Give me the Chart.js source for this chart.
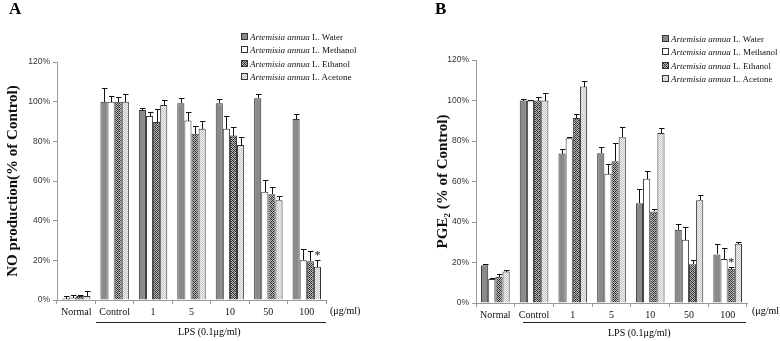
<!DOCTYPE html>
<html>
<head>
<meta charset="utf-8">
<script src="https://cdn.jsdelivr.net/npm/chart.js@4/dist/chart.umd.min.js"></script>
<style>
body { margin:0; background:#fff; width:780px; height:341px; overflow:hidden; position:relative; font-family:"Liberation Serif","Times New Roman",serif; }
.pane { position:absolute; top:0; width:390px; height:341px; }
.pane canvas { position:absolute; left:0; top:0; }
.lbl { position:absolute; font-weight:bold; font-size:17px; }
.unit { position:absolute; font-size:10px; }
.lps { position:absolute; font-size:10px; }
.lpsline { position:absolute; height:0; border-top:1px solid #222; }
.legend { position:absolute; font-size:9px; line-height:13.4px; color:#111; white-space:nowrap; }
.legend span.box { display:inline-block; width:5px; height:5px; border:1px solid #333; margin-right:2px; vertical-align:0px; }
</style>
</head>
<body>
<div class="pane" id="paneA" style="left:0">
  <canvas id="chartA" width="390" height="341"></canvas>
  <div class="lbl" style="left:9px;top:-1px">A</div>
  <div class="legend" id="legA" style="left:241px;top:31px"></div>
  <div class="unit" style="left:330px;top:305px">(μg/ml)</div>
  <div class="lpsline" style="left:96px;top:322px;width:230px"></div>
  <div class="lps" style="left:178px;top:326px">LPS (0.1μg/ml)</div>
</div>
<div class="pane" id="paneB" style="left:390px">
  <canvas id="chartB" width="390" height="341"></canvas>
  <div class="lbl" style="left:45px;top:-1px">B</div>
  <div class="legend" id="legB" style="left:272px;top:33px"></div>
  <div class="unit" style="left:362px;top:305px">(μg/ml)</div>
  <div class="lpsline" style="left:133px;top:322px;width:223px"></div>
  <div class="lps" style="left:218px;top:327px">LPS (0.1μg/ml)</div>
</div>
<script>
// categories and series
var categories = ["Normal", "Control", "1", "5", "10", "50", "100"];
var seriesNames = ["Water", "Methanol", "Ethanol", "Acetone"];

// panel A: NO production
var noWater    = [0.7, 100, 95.8, 99.2, 99.2, 101.7, 91.3];
var noMethanol = [1.2, 100, 92.8, 90.5, 86.3, 54.6, 20.1];
var noEthanol  = [2.0, 100, 89.8, 83.8, 82.9, 53.3, 19.6];
var noAcetone  = [2.0, 100, 98.3, 86.3, 78.2, 50.3, 16.8];
var noWaterSd    = [1.3, 6.9, 0.8, 2.6, 2.1, 2.2, 2.3];
var noMethanolSd = [1.1, 2.8, 2.0, 4.5, 6.3, 5.9, 5.4];
var noEthanolSd  = [0.7, 2.2, 6.5, 4.0, 4.2, 3.7, 5.2];
var noAcetoneSd  = [2.7, 4.0, 2.5, 4.0, 3.8, 2.1, 3.3];
var noStars = [[6, 3]]; // [category, series]

// panel B: PGE2
var pgWater    = [18.6, 100, 73.8, 74.0, 49.3, 36.2, 24.0];
var pgMethanol = [11.8, 100, 81.3, 63.8, 61.3, 31.2, 21.7];
var pgEthanol  = [13.0, 100, 91.4, 70.0, 45.2, 19.1, 16.9];
var pgAcetone  = [15.5, 100, 106.9, 81.9, 84.0, 50.7, 29.3];
var pgWaterSd    = [0.5, 0.5, 2.4, 2.8, 7.1, 2.9, 5.1];
var pgMethanolSd = [0.7, 0.3, 0.6, 4.6, 3.7, 6.3, 5.6];
var pgEthanolSd  = [1.1, 1.8, 2.0, 8.9, 1.2, 2.3, 0.9];
var pgAcetoneSd  = [0.6, 3.9, 2.6, 4.8, 2.3, 2.8, 0.8];
var pgStars = [[6, 2]];

var yTicks = [0, 20, 40, 60, 80, 100, 120];

// fill patterns
function makeTile(size, fn) {
  var c = document.createElement('canvas');
  c.width = size; c.height = size;
  var g = c.getContext('2d');
  for (var x = 0; x < size; x++) for (var y = 0; y < size; y++) {
    g.fillStyle = fn(x, y);
    g.fillRect(x, y, 1, 1);
  }
  return c;
}
var solidTile = makeTile(2, () => '#8a8a8a');
var whiteTile = makeTile(2, () => '#ffffff');
var hatchTile = makeTile(4, (x, y) => ((x + y) % 4 == 0 || ((x - y + 8) % 4 == 0)) ? '#2a2a2a' : ((x + y) % 2 == 0 ? '#6a6a6a' : '#b8b8b8'));
var dotTile = makeTile(2, (x, y) => ((x + y) % 2 == 0) ? '#c4c4c4' : '#f4f4f4');
var tiles = [solidTile, whiteTile, hatchTile, dotTile];

function patternFor(i) {
  var ctx = document.createElement('canvas').getContext('2d');
  return ctx.createPattern(tiles[i], 'repeat');
}

function fillLegend(id) {
  var html = seriesNames.map((n, i) => {
    return '<div><span class="box" style="background-image:url(' + tiles[i].toDataURL() + ')"></span>' +
      '<i>Artemisia annua</i> L. ' + n + '</div>';
  }).join('');
  document.getElementById(id).innerHTML = html;
}
fillLegend('legA');
fillLegend('legB');

function errPlugin(sds, stars) {
  return {
    id: 'errbars',
    afterDatasetsDraw(chart) {
      var ctx = chart.ctx, y = chart.scales.y;
      ctx.save();
      ctx.strokeStyle = '#111';
      ctx.lineWidth = 1;
      chart.data.datasets.forEach((ds, di) => {
        var meta = chart.getDatasetMeta(di);
        meta.data.forEach((el, i) => {
          var top = y.getPixelForValue(ds.data[i] + sds[di][i]);
          var x = Math.round(el.x) + 0.5;
          var t = Math.round(top) + 0.5;
          ctx.beginPath();
          ctx.moveTo(x, Math.round(el.y));
          ctx.lineTo(x, t);
          ctx.moveTo(x - 2.5, t);
          ctx.lineTo(x + 3, t);
          ctx.stroke();
        });
      });
      ctx.fillStyle = '#111';
      ctx.font = '12px "Liberation Serif", serif';
      ctx.textAlign = 'center';
      stars.forEach(s => {
        var el = chart.getDatasetMeta(s[1]).data[s[0]];
        var ds = chart.data.datasets[s[1]];
        var top = y.getPixelForValue(ds.data[s[0]] + sds[s[1]][s[0]]);
        ctx.fillText('*', el.x, top - 1);
      });
      ctx.restore();
    }
  };
}

function makeChart(id, series, sds, stars, title, pad, yWidth, xHeight) {
  var datasets = series.map((d, i) => ({
    label: seriesNames[i],
    data: d,
    backgroundColor: patternFor(i),
    borderColor: '#333',
    borderWidth: 1,
    categoryPercentage: 0.74,
    barPercentage: 1
  }));
  return new Chart(document.getElementById(id), {
    type: 'bar',
    data: { labels: categories, datasets: datasets },
    plugins: [errPlugin(sds, stars)],
    options: {
      responsive: false,
      animation: false,
      devicePixelRatio: 1,
      layout: { padding: pad },
      plugins: { legend: { display: false }, tooltip: { enabled: false } },
      scales: {
        x: {
          grid: { offset: true, drawOnChartArea: false, drawTicks: true, tickLength: 4, color: '#999' },
          border: { color: '#999' },
          ticks: { color: '#111', autoSkip: false, maxRotation: 0, padding: 2, font: { family: '"Liberation Serif", serif', size: 10 } },
          afterFit: s => { s.height = xHeight; }
        },
        y: {
          min: 0, max: 120,
          afterBuildTicks: s => { s.ticks = yTicks.map(v => ({ value: v })); },
          grid: { drawOnChartArea: false, drawTicks: true, tickLength: 4, color: '#999' },
          border: { color: '#999' },
          ticks: { color: '#333', padding: 3, callback: v => v + '%', font: { family: '"Liberation Sans", Arial, sans-serif', size: 8.5 } },
          title: { display: true, text: title, color: '#111', padding: { top: 4, bottom: 4 },
            font: { family: '"Liberation Serif", serif', size: 15, weight: 'bold' } },
          afterFit: s => { s.width = yWidth; }
        }
      }
    }
  });
}

makeChart('chartA', [noWater, noMethanol, noEthanol, noAcetone],
  [noWaterSd, noMethanolSd, noEthanolSd, noAcetoneSd], noStars,
  'NO production(% of Control)', { left: 0, top: 62, right: 64, bottom: 0 }, 57, 41);
makeChart('chartB', [pgWater, pgMethanol, pgEthanol, pgAcetone],
  [pgWaterSd, pgMethanolSd, pgEthanolSd, pgAcetoneSd], pgStars,
  'PGE₂ (% of Control)', { left: 40, top: 60, right: 33, bottom: 0 }, 46, 38);
</script>
</body>
</html>
